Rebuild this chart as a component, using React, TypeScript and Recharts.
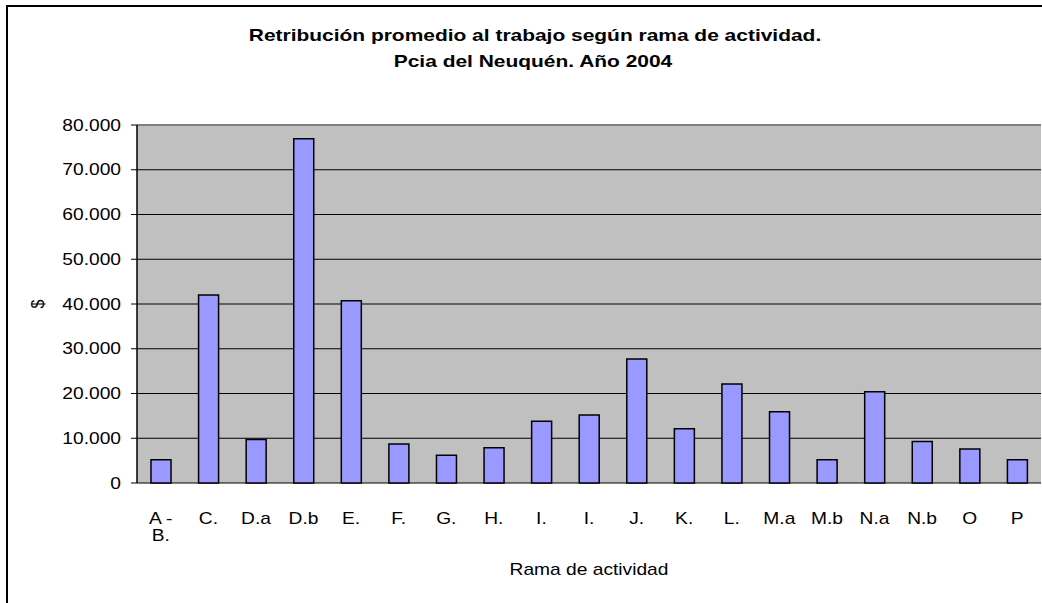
import React from "react";
import {
  BarChart,
  Bar,
  XAxis,
  YAxis,
  CartesianGrid,
  ReferenceLine,
} from "recharts";

const TITLE_LINE_1 = "Retribución promedio al trabajo según rama de actividad.";
const TITLE_LINE_2 = "Pcia del Neuquén. Año 2004";
const X_TITLE = "Rama de actividad";
const Y_TITLE = "$";

const categories = [
  "A - B.", "C.", "D.a", "D.b", "E.", "F.", "G.", "H.", "I.", "I.",
  "J.", "K.", "L.", "M.a", "M.b", "N.a", "N.b", "O", "P",
];
const values = [
  5200, 42000, 9700, 76900, 40700, 8700, 6200, 7900, 13800, 15200,
  27700, 12100, 22100, 15900, 5200, 20400, 9300, 7600, 5200,
];
const yTicks = [0, 10000, 20000, 30000, 40000, 50000, 60000, 70000, 80000];
const boundaryTicks = [0, 1, 2, 3, 4, 5, 6, 7, 8, 9, 10, 11, 12, 13, 14, 15, 16, 17, 18, 19];

const data = categories.map((c, i) => ({ cat: c, value: values[i] }));

const FONT = "'Liberation Sans', Arial, Helvetica, sans-serif";
const SX = 1.2;

const fmt = (n: number) => String(n).replace(/\B(?=(\d{3})+(?!\d))/g, ".");

const YTick = (props: any) => {
  const { x, y, payload } = props;
  return (
    <text
      transform={`translate(${x},${y}) scale(${SX},1)`}
      textAnchor="end"
      dy="0.35em"
      fontSize={16}
      fontFamily={FONT}
      fill="#000"
    >
      {fmt(payload.value)}
    </text>
  );
};

const XTick = (props: any) => {
  const { x, y, payload } = props;
  const label: string = String(payload.value);
  let lines = [label];
  const idx = label.indexOf(" - ");
  if (idx >= 0) {
    lines = [label.slice(0, idx) + " -", label.slice(idx + 3)];
  }
  return (
    <g transform={`translate(${x},${y}) scale(${SX},1)`}>
      {lines.map((l, i) => (
        <text
          key={i}
          x={0}
          y={i * 17.5}
          textAnchor="middle"
          fontSize={16}
          fontFamily={FONT}
          fill="#000"
        >
          {l}
        </text>
      ))}
    </g>
  );
};

const EmptyTick = () => <g />;

const XLabel = (props: any) => {
  const vb = props.viewBox || {};
  const cx = vb.x + vb.width / 2;
  const y = vb.y + 92;
  return (
    <text
      transform={`translate(${cx},${y}) scale(${SX},1)`}
      textAnchor="middle"
      fontSize={16}
      fontFamily={FONT}
      fill="#000"
    >
      {X_TITLE}
    </text>
  );
};

const YLabel = (props: any) => {
  const vb = props.viewBox || {};
  const cx = vb.x + 37;
  const cy = vb.y + vb.height / 2;
  return (
    <text
      transform={`translate(${cx},${cy}) scale(${SX},1) rotate(-90)`}
      textAnchor="middle"
      dy="0.35em"
      fontSize={16}
      fontFamily={FONT}
      fill="#000"
    >
      {Y_TITLE}
    </text>
  );
};

export default function App() {
  return (
    <div
      style={{
        position: "absolute",
        left: 0,
        top: 0,
        width: 1042,
        height: 603,
        overflow: "hidden",
        background: "#fff",
      }}
    >
      <div
        style={{
          position: "absolute",
          left: 6,
          top: 5,
          width: 1200,
          height: 800,
          border: "2px solid #000",
          boxSizing: "border-box",
        }}
      />
      <svg
        width={1042}
        height={100}
        style={{ position: "absolute", left: 0, top: 0 }}
      >
        <text
          transform={`translate(535,41) scale(1.27,1)`}
          textAnchor="middle"
          fontSize={16.5}
          fontWeight="bold"
          fontFamily={FONT}
          fill="#000"
        >
          {TITLE_LINE_1}
        </text>
        <text
          transform={`translate(533,67) scale(1.27,1)`}
          textAnchor="middle"
          fontSize={16.5}
          fontWeight="bold"
          fontFamily={FONT}
          fill="#000"
        >
          {TITLE_LINE_2}
        </text>
      </svg>
      <div style={{ position: "absolute", left: 0, top: 0 }}>
        <BarChart
          width={1042}
          height={603}
          data={data}
          margin={{ top: 125, right: 1, left: 0, bottom: 0 }}
        >
          <CartesianGrid
            vertical={false}
            horizontal={true}
            fill="#C0C0C0"
            fillOpacity={1}
            stroke="#000"
            strokeWidth={1}
          />
          <XAxis
            xAxisId="b"
            type="number"
            domain={[0, 19]}
            ticks={boundaryTicks}
            allowDataOverflow
            height={0}
            tick={EmptyTick}
            tickSize={6}
            tickLine={{ stroke: "#000", strokeWidth: 1 }}
            axisLine={{ stroke: "#000", strokeWidth: 1.5 }}
            interval={0}
          />
          <XAxis
            dataKey="cat"
            type="category"
            height={120}
            interval={0}
            tickLine={false}
            tickSize={0}
            tickMargin={41}
            axisLine={false}
            tick={XTick}
            label={{ content: XLabel }}
          />
          <YAxis
            width={137}
            domain={[0, 80000]}
            ticks={yTicks}
            interval={0}
            tickSize={6}
            tickMargin={10}
            tick={YTick}
            tickLine={{ stroke: "#000", strokeWidth: 1 }}
            axisLine={{ stroke: "#000", strokeWidth: 1.5 }}
            label={{ content: YLabel }}
          />
          <ReferenceLine y={80000} stroke="#808080" strokeWidth={2} />
          <ReferenceLine xAxisId="b" x={19} stroke="#808080" strokeWidth={2} />
          <Bar
            dataKey="value"
            barSize={20}
            fill="#9999FF"
            stroke="#000"
            strokeWidth={1.5}
            isAnimationActive={false}
          />
        </BarChart>
      </div>
    </div>
  );
}
